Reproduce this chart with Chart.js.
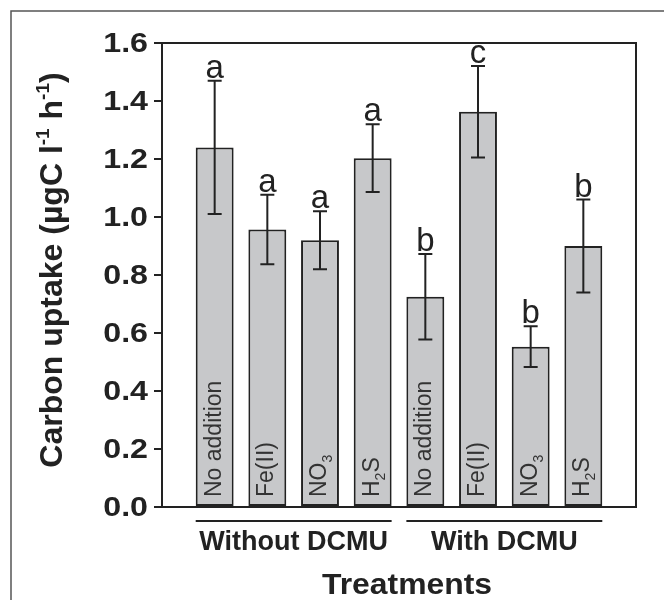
<!DOCTYPE html>
<html>
<head>
<meta charset="utf-8">
<script src="https://cdn.jsdelivr.net/npm/chart.js@4"></script>
<style>
  html, body { margin: 0; padding: 0; background: #fff; }
  #wrap { width: 664px; height: 600px; }
</style>
</head>
<body>
<div id="wrap"><canvas id="barChart" width="664" height="600"></canvas></div>
<script>
// values
const treatments = ['No addition', 'Fe(II)', 'NO_3', 'H_2S', 'No addition', 'Fe(II)', 'NO_3', 'H_2S'];
const uptake = [1.24, 0.957, 0.92, 1.203, 0.725, 1.363, 0.553, 0.90];
const errors = [0.23, 0.12, 0.10, 0.117, 0.147, 0.158, 0.07, 0.16];
const letters = ['a', 'a', 'a', 'a', 'b', 'c', 'b', 'b'];
const groups = ['Without DCMU', 'With DCMU'];
const groupSize = 4;
const yTicks = [0, 0.2, 0.4, 0.6, 0.8, 1.0, 1.2, 1.4, 1.6];

const FONT = "'Liberation Sans', Arial, sans-serif";
const INK = '#222';

// draws text where "_3" style parts become subscripts
function drawSubText(ctx, text, size, subSize) {
    const parts = text.split(/_(\d)/);
    let x = 0;
    parts.forEach((p, i) => {
        if (!p) return;
        const sub = i % 2 === 1;
        ctx.font = (sub ? subSize : size) + 'px ' + FONT;
        ctx.fillText(p, x, sub ? 6 : 0);
        x += ctx.measureText(p).width;
    });
}

const extras = {
    id: 'extras',
    beforeDraw(chart) {
        const ctx = chart.ctx;
        ctx.save();
        ctx.fillStyle = '#fff';
        ctx.fillRect(0, 0, chart.width, chart.height);
        // outer frame of the figure
        ctx.strokeStyle = '#555';
        ctx.lineWidth = 1.5;
        ctx.strokeRect(11, 11, 700, 700);
        ctx.restore();
    },
    afterDatasetsDraw(chart) {
        const ctx = chart.ctx;
        const y = chart.scales.y;
        const area = chart.chartArea;
        const bars = chart.getDatasetMeta(0).data;
        ctx.save();
        ctx.strokeStyle = INK;
        ctx.fillStyle = INK;
        ctx.lineWidth = 2;

        // box around plot
        ctx.strokeRect(area.left, area.top, area.right - area.left, area.bottom - area.top);

        // y tick labels (the original font is a wide bold face)
        ctx.font = 'bold 28px ' + FONT;
        ctx.textAlign = 'right';
        ctx.textBaseline = 'middle';
        yTicks.forEach(v => {
            ctx.save();
            ctx.translate(area.left - 14, y.getPixelForValue(v) + 1);
            ctx.scale(1.15, 1);
            ctx.fillText(v.toFixed(1), 0, 0);
            ctx.restore();
        });

        bars.forEach((bar, i) => {
            const top = y.getPixelForValue(uptake[i] + errors[i]);
            const bot = y.getPixelForValue(uptake[i] - errors[i]);
            const cx = bar.x;
            ctx.beginPath();
            ctx.moveTo(cx, top); ctx.lineTo(cx, bot);
            ctx.moveTo(cx - 7, top); ctx.lineTo(cx + 7, top);
            ctx.moveTo(cx - 7, bot); ctx.lineTo(cx + 7, bot);
            ctx.stroke();

            // significance letters
            ctx.font = '33px ' + FONT;
            ctx.textAlign = 'center';
            ctx.textBaseline = 'alphabetic';
            ctx.fillText(letters[i], cx, top - 3);

            // rotated label inside bar
            ctx.save();
            ctx.fillStyle = '#333';
            ctx.translate(cx + 6, area.bottom - 10);
            ctx.rotate(-Math.PI / 2);
            ctx.textAlign = 'left';
            drawSubText(ctx, treatments[i], 23, 14);
            ctx.restore();
        });

        // group underlines and labels
        ctx.textAlign = 'center';
        ctx.textBaseline = 'middle';
        ctx.font = 'bold 27px ' + FONT;
        groups.forEach((g, k) => {
            const first = bars[k * groupSize];
            const last = bars[k * groupSize + groupSize - 1];
            const x0 = first.x - first.width / 2;
            const x1 = last.x + last.width / 2;
            ctx.beginPath();
            ctx.moveTo(x0, area.bottom + 14);
            ctx.lineTo(x1, area.bottom + 14);
            ctx.stroke();
            ctx.fillText(g, (x0 + x1) / 2, area.bottom + 36);
        });

        // x title
        ctx.save();
        ctx.font = 'bold 29px ' + FONT;
        ctx.textBaseline = 'alphabetic';
        ctx.translate((area.left + area.right) / 2 + 8, 594);
        ctx.scale(1.1, 1);
        ctx.fillText('Treatments', 0, 0);
        ctx.restore();

        // y title with superscripts
        const segs = [['Carbon uptake (\u00b5gC l', false], ['-1', true], [' h', false], ['-1', true], [')', false]];
        const measure = s => { ctx.font = (s[1] ? 'bold 19px ' : 'bold 32px ') + FONT; return ctx.measureText(s[0]).width; };
        const total = segs.reduce((a, s) => a + measure(s), 0);
        ctx.save();
        ctx.translate(62, 270);
        ctx.rotate(-Math.PI / 2);
        ctx.textAlign = 'left';
        ctx.textBaseline = 'alphabetic';
        let x = -total / 2;
        segs.forEach(s => {
            const w = measure(s);
            ctx.fillText(s[0], x, s[1] ? -13 : 0);
            x += w;
        });
        ctx.restore();

        ctx.restore();
    }
};

new Chart(document.getElementById('barChart'), {
    type: 'bar',
    data: {
        datasets: [{
            data: uptake.map((v, i) => ({ x: i + 1, y: v })),
            backgroundColor: '#c7c8ca',
            borderColor: INK,
            borderWidth: 2,
            borderSkipped: false
        }]
    },
    options: {
        responsive: false,
        animation: false,
        layout: { padding: { left: 0, top: 43, right: 28, bottom: 93 } },
        plugins: { legend: { display: false }, tooltip: { enabled: false } },
        scales: {
            x: {
                type: 'linear',
                min: 0,
                max: treatments.length + 1,
                offset: false,
                display: false
            },
            y: {
                min: 0,
                max: 1.6,
                afterFit: s => { s.width = 162; },
                afterBuildTicks: s => { s.ticks = yTicks.map(v => ({ value: v })); },
                ticks: {
                    color: 'rgba(0,0,0,0)',
                    padding: 5,
                    font: { family: FONT, size: 25, weight: 'bold' },
                    callback: v => v.toFixed(1)
                },
                grid: { drawOnChartArea: false, drawTicks: true, tickLength: 8, color: INK, lineWidth: 2 },
                border: { display: true, color: INK, width: 2 }
            }
        }
    },
    plugins: [extras]
});
</script>
</body>
</html>
